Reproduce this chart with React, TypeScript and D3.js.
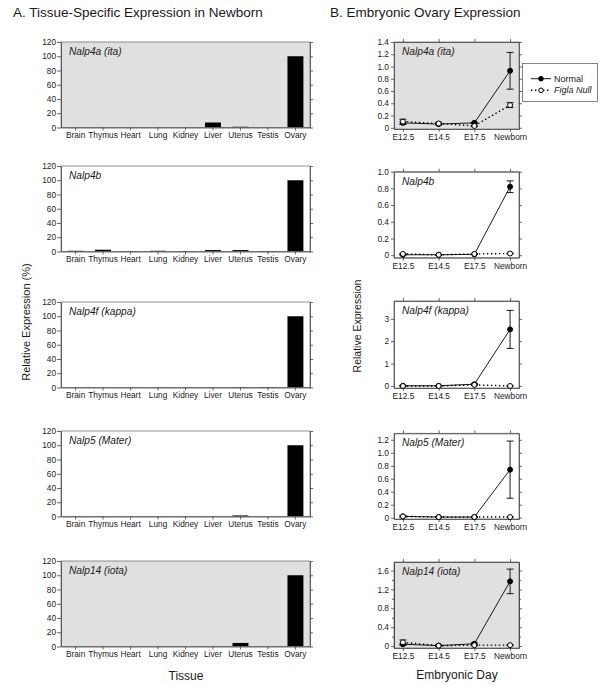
import { useEffect, useRef } from "react";
import * as d3 from "d3";

// ---- data ----
const tissues = ["Brain", "Thymus", "Heart", "Lung", "Kidney", "Liver", "Uterus", "Testis", "Ovary"];
const genes = ["Nalp4a (ita)", "Nalp4b", "Nalp4f (kappa)", "Nalp5 (Mater)", "Nalp14 (iota)"];

const tissueNalp4a = [0, 0, 0, 0, 0, 7, 1, 0, 100];
const tissueNalp4b = [1, 2.5, 0.5, 1, 0.5, 2, 2, 0.5, 100];
const tissueNalp4f = [0, 0, 0, 0, 0, 0, 0.5, 0.5, 100];
const tissueNalp5 = [0, 0, 0, 0, 0, 0, 1.5, 0, 100];
const tissueNalp14 = [0, 0, 0, 0, 0, 0, 5, 0, 100];
const tissueValues = [tissueNalp4a, tissueNalp4b, tissueNalp4f, tissueNalp5, tissueNalp14];
const tissueTicks = [0, 20, 40, 60, 80, 100, 120];

const days = ["E12.5", "E14.5", "E17.5", "Newborn"];

const normalNalp4a = [0.08, 0.06, 0.08, 0.93];
const normalErrNalp4a = [0.02, 0.01, 0.01, 0.3];
const nullNalp4a = [0.1, 0.07, 0.03, 0.37];
const nullErrNalp4a = [0.04, 0.02, 0.01, 0.04];

const normalNalp4b = [0.005, 0.005, 0.01, 0.82];
const normalErrNalp4b = [0.005, 0.003, 0.003, 0.07];
const nullNalp4b = [0.015, 0.005, 0.015, 0.02];
const nullErrNalp4b = [0.005, 0.003, 0.005, 0.005];

const normalNalp4f = [0.01, 0.01, 0.08, 2.53];
const normalErrNalp4f = [0.01, 0.01, 0.03, 0.85];
const nullNalp4f = [0.0, 0.0, 0.05, 0.0];
const nullErrNalp4f = [0.01, 0.01, 0.02, 0.01];

const normalNalp5 = [0.02, 0.01, 0.01, 0.74];
const normalErrNalp5 = [0.01, 0.005, 0.005, 0.44];
const nullNalp5 = [0.02, 0.01, 0.01, 0.01];
const nullErrNalp5 = [0.01, 0.005, 0.005, 0.005];

const normalNalp14 = [0.04, 0.01, 0.05, 1.37];
const normalErrNalp14 = [0.02, 0.01, 0.02, 0.26];
const nullNalp14 = [0.08, 0.01, 0.02, 0.02];
const nullErrNalp14 = [0.05, 0.01, 0.01, 0.01];

const normalValues = [normalNalp4a, normalNalp4b, normalNalp4f, normalNalp5, normalNalp14];
const normalErrors = [normalErrNalp4a, normalErrNalp4b, normalErrNalp4f, normalErrNalp5, normalErrNalp14];
const nullValues = [nullNalp4a, nullNalp4b, nullNalp4f, nullNalp5, nullNalp14];
const nullErrors = [nullErrNalp4a, nullErrNalp4b, nullErrNalp4f, nullErrNalp5, nullErrNalp14];

const embryoTicks = [
    [0, 0.2, 0.4, 0.6, 0.8, 1.0, 1.2, 1.4],
    [0, 0.2, 0.4, 0.6, 0.8, 1.0],
    [0, 1, 2, 3],
    [0, 0.2, 0.4, 0.6, 0.8, 1.0, 1.2],
    [0, 0.4, 0.8, 1.2, 1.6],
];
const embryoDecimals = [1, 1, 0, 1, 1];
const embryoMinorTicks = [[], [], [], [], [0.2, 0.6, 1.0, 1.4]];
const embryoDomains = [
    [-0.02, 1.4],
    [-0.03, 1.0],
    [-0.09, 3.8],
    [-0.02, 1.3],
    [-0.04, 1.78],
];

// ---- layout ----
const leftTops = [42, 166, 302, 431, 561];
const leftH = 85.5;
const rightBoxes = [[42, 129], [171.7, 257.7], [301, 388], [433.3, 519], [562, 648]];
const shaded = [true, false, false, false, true];
const font = "Liberation Sans, Arial, sans-serif";
const ink = "#1a1a1a";

const App = () => {
    const ref = useRef<SVGSVGElement>(null);
    useEffect(() => {
        document.body.style.margin = "0";
        const svg = d3.select(ref.current);
        svg.selectAll("*").remove();
        svg.attr("width", 600).attr("height", 685).style("font-family", font);

        const styleAxis = (g: any, size = 8.3) => {
            g.selectAll("path").attr("stroke", "#444").attr("stroke-width", 0.8);
            g.selectAll("line").attr("stroke", "#444").attr("stroke-width", 0.8);
            g.selectAll("text").attr("fill", ink).style("font-size", size + "px").style("font-family", font);
        };

        // titles
        svg.append("text").attr("x", 13).attr("y", 17).text("A. Tissue-Specific Expression in Newborn")
            .style("font-size", "13.5px").attr("fill", ink);
        svg.append("text").attr("x", 330).attr("y", 17).text("B. Embryonic Ovary Expression")
            .style("font-size", "13.5px").attr("fill", ink);

        // ---- left column: tissue bars ----
        const x = d3.scaleBand().domain(tissues).range([61, 310]).paddingInner(0.42).paddingOuter(0.24);
        tissueValues.forEach((vals, i) => {
            const top = leftTops[i];
            const bottom = top + leftH;
            const y = d3.scaleLinear().domain([0, 120]).range([bottom, top]);
            const g = svg.append("g");
            g.append("rect").attr("x", 61).attr("y", top).attr("width", 249).attr("height", leftH)
                .attr("fill", shaded[i] ? "#e0e0e0" : "#fff");
            g.selectAll("rect.bar").data(vals).enter().append("rect")
                .attr("class", "bar")
                .attr("x", (_d, j) => x(tissues[j]) as number)
                .attr("width", x.bandwidth())
                .attr("y", (d) => y(d))
                .attr("height", (d) => bottom - y(d))
                .attr("fill", "#000");
            g.append("rect").attr("x", 61).attr("y", top).attr("width", 249).attr("height", leftH)
                .attr("fill", "none").attr("stroke", "#777").attr("stroke-width", 0.8);
            g.append("g").attr("transform", "translate(61,0)")
                .call(d3.axisLeft(y).tickValues(tissueTicks).tickSize(4).tickPadding(1).tickSizeOuter(0))
                .call(styleAxis);
            g.append("g").attr("transform", "translate(310,0)")
                .call(d3.axisRight(y).tickValues(tissueTicks).tickSize(3).tickSizeOuter(0).tickFormat(() => ""))
                .call(styleAxis);
            g.append("g").attr("transform", `translate(0,${bottom})`)
                .call(d3.axisBottom(x).tickSize(3).tickPadding(2).tickSizeOuter(0))
                .call(styleAxis);
            g.append("text").attr("x", 69).attr("y", top + 13).text(genes[i])
                .style("font-size", "10.2px").style("font-style", "italic").attr("fill", ink);
        });

        svg.append("text").attr("transform", "translate(30,322) rotate(-90)").attr("text-anchor", "middle")
            .text("Relative Expression (%)").style("font-size", "11px").attr("fill", ink);
        svg.append("text").attr("x", 186).attr("y", 680).attr("text-anchor", "middle")
            .text("Tissue").style("font-size", "12px").attr("fill", ink);

        // ---- right column: embryonic time course ----
        const xp = d3.scalePoint().domain(days).range([394, 519]).padding(0.25);
        normalValues.forEach((norm, i) => {
            const [top, bottom] = rightBoxes[i];
            const y = d3.scaleLinear().domain(embryoDomains[i]).range([bottom, top]);
            const g = svg.append("g");
            g.append("rect").attr("x", 394).attr("y", top).attr("width", 125).attr("height", bottom - top)
                .attr("fill", shaded[i] ? "#e0e0e0" : "#fff").attr("stroke", "#777").attr("stroke-width", 0.8);

            const fmt = (v: number) => (v === 0 ? "0" : v.toFixed(embryoDecimals[i]));
            g.append("g").attr("transform", "translate(394,0)")
                .call(d3.axisLeft(y).tickValues(embryoTicks[i]).tickSize(3).tickPadding(2).tickSizeOuter(0).tickFormat((d: any) => fmt(d)))
                .call(styleAxis);
            if (embryoMinorTicks[i].length) {
                g.append("g").attr("transform", "translate(394,0)")
                    .call(d3.axisLeft(y).tickValues(embryoMinorTicks[i]).tickSize(2).tickSizeOuter(0).tickFormat(() => ""))
                    .call(styleAxis);
                g.append("g").attr("transform", "translate(519,0)")
                    .call(d3.axisRight(y).tickValues(embryoMinorTicks[i]).tickSize(2).tickSizeOuter(0).tickFormat(() => ""))
                    .call(styleAxis);
            }
            g.append("g").attr("transform", "translate(519,0)")
                .call(d3.axisRight(y).tickValues(embryoTicks[i]).tickSize(3).tickSizeOuter(0).tickFormat(() => ""))
                .call(styleAxis);
            g.append("g").attr("transform", `translate(0,${bottom})`)
                .call(d3.axisBottom(xp).tickSize(3).tickPadding(2).tickSizeOuter(0))
                .call(styleAxis);
            g.append("g").attr("transform", `translate(0,${top})`)
                .call(d3.axisTop(xp).tickSize(3).tickSizeOuter(0).tickFormat(() => ""))
                .call(styleAxis);

            const series = [
                { vals: norm, errs: normalErrors[i], dash: null, width: 0.9, fill: "#000" },
                { vals: nullValues[i], errs: nullErrors[i], dash: "1.4,2.6", width: 1.4, fill: "#fff" },
            ];
            const line = d3.line<number>().x((_d, j) => xp(days[j]) as number).y((d) => y(d));
            series.forEach((s) => {
                g.append("path").datum(s.vals).attr("d", line).attr("fill", "none")
                    .attr("stroke", "#000").attr("stroke-width", s.width)
                    .attr("stroke-dasharray", s.dash);
            });
            series.forEach((s) => {
                const eg = g.append("g").attr("stroke", "#000").attr("stroke-width", 0.9);
                s.vals.forEach((v, j) => {
                    const cx = xp(days[j]) as number;
                    const y1 = y(v + s.errs[j]);
                    const y2 = y(v - s.errs[j]);
                    eg.append("line").attr("x1", cx).attr("x2", cx).attr("y1", y1).attr("y2", y2);
                    eg.append("line").attr("x1", cx - 3.5).attr("x2", cx + 3.5).attr("y1", y1).attr("y2", y1);
                    eg.append("line").attr("x1", cx - 3.5).attr("x2", cx + 3.5).attr("y1", y2).attr("y2", y2);
                });
            });
            series.forEach((s) => {
                g.append("g").selectAll("circle").data(s.vals).enter().append("circle")
                    .attr("cx", (_d, j) => xp(days[j]) as number)
                    .attr("cy", (d) => y(d))
                    .attr("r", 2.5)
                    .attr("fill", s.fill)
                    .attr("stroke", "#000")
                    .attr("stroke-width", 1);
            });
            g.append("text").attr("x", 402).attr("y", top + 13).text(genes[i])
                .style("font-size", "10.2px").style("font-style", "italic").attr("fill", ink);
        });

        svg.append("text").attr("transform", "translate(361,326) rotate(-90)").attr("text-anchor", "middle")
            .text("Relative Expression").style("font-size", "10.5px").attr("fill", ink);
        svg.append("text").attr("x", 457).attr("y", 679).attr("text-anchor", "middle")
            .text("Embryonic Day").style("font-size", "12px").attr("fill", ink);

        // legend
        const lg = svg.append("g");
        lg.append("rect").attr("x", 522.5).attr("y", 63.5).attr("width", 75).attr("height", 38)
            .attr("fill", "#fff").attr("stroke", "#666").attr("stroke-width", 0.8);
        const legendItems = [
            { label: "Normal", dash: null, width: 0.9, fill: "#000", italic: false },
            { label: "Figla Null", dash: "1.4,2.6", width: 1.4, fill: "#fff", italic: true },
        ];
        legendItems.forEach((it, k) => {
            const ly = 78.7 + k * 11.6;
            lg.append("line").attr("x1", 531).attr("x2", 551).attr("y1", ly).attr("y2", ly)
                .attr("stroke", "#000").attr("stroke-width", it.width).attr("stroke-dasharray", it.dash);
            lg.append("circle").attr("cx", 541).attr("cy", ly).attr("r", 2.3)
                .attr("fill", it.fill).attr("stroke", "#000").attr("stroke-width", 1);
            lg.append("text").attr("x", 554).attr("y", ly + 3).text(it.label)
                .style("font-size", "9px").style("font-style", it.italic ? "italic" : "normal").attr("fill", ink);
        });
    });
    return <svg ref={ref} style={{ display: "block" }} />;
};

export default App;
